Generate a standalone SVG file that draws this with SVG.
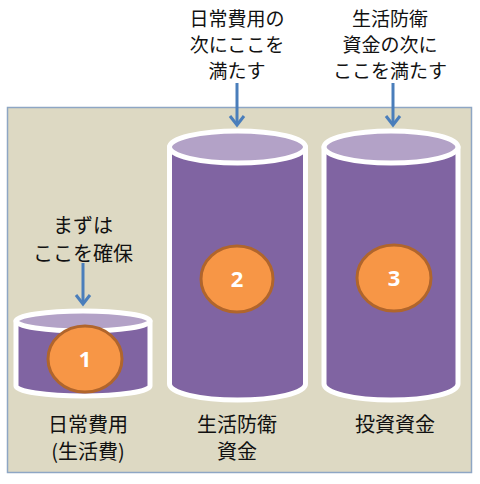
<svg xmlns="http://www.w3.org/2000/svg" width="480" height="484" viewBox="0 0 480 484">
<defs>
<style>
.t{font-family:"Noto Sans CJK JP","Noto Sans CJK SC",sans-serif;font-size:20px;fill:#111;text-anchor:middle}
.s{font-size:19px}
.body{fill:#8064A2;stroke:#fff;stroke-width:5;stroke-linejoin:round}
.top{fill:#B3A2C7;stroke:#fff;stroke-width:5}
.badge{fill:#F79646;stroke:#B0652C;stroke-width:3}
.num{font-family:"Open Sans","Liberation Sans",sans-serif;font-weight:bold;font-size:22px;fill:#fff;text-anchor:middle}
.arr{stroke:#4A7EBB;stroke-width:3;fill:none}
</style>
<marker id="ah" markerUnits="userSpaceOnUse" markerWidth="20" markerHeight="20" viewBox="-10 -10 20 20" refX="0" refY="0" orient="auto">
<path d="M-9,-7 L0,0 L-9,7" fill="none" stroke="#4A7EBB" stroke-width="3"/>
</marker>
</defs>
<rect x="0" y="0" width="480" height="484" fill="#fff"/>
<rect id="panel" x="7.5" y="107.5" width="464" height="365" fill="#DDD9C3" stroke="#8EA6C4" stroke-width="1.5"/>
<g id="cyl1">
<path class="body" d="M16,321 L16,386 A67,10 0 0 0 150,386 L150,321 Z"/>
<ellipse class="top" cx="83" cy="321" rx="67" ry="10"/>
<ellipse class="badge" cx="85" cy="359" rx="37" ry="33"/>
<text class="num" x="85" y="367">1</text>
</g>
<g id="cyl2">
<path class="body" d="M169.5,147 L169.5,384 A68,16 0 0 0 305.5,384 L305.5,147 Z"/>
<ellipse class="top" cx="237.5" cy="147" rx="68" ry="16"/>
<ellipse class="badge" cx="237" cy="279" rx="36" ry="33"/>
<text class="num" x="237" y="287">2</text>
</g>
<g id="cyl3">
<path class="body" d="M324,147 L324,384 A67,16 0 0 0 458,384 L458,147 Z"/>
<ellipse class="top" cx="391" cy="147" rx="67" ry="16"/>
<ellipse class="badge" cx="394" cy="278" rx="37" ry="33"/>
<text class="num" x="394" y="286">3</text>
</g>
<g id="connectors">
<line class="arr" x1="83" y1="263" x2="83" y2="304" marker-end="url(#ah)"/>
<line class="arr" x1="237" y1="83" x2="237" y2="125" marker-end="url(#ah)"/>
<line class="arr" x1="393" y1="83" x2="393" y2="125" marker-end="url(#ah)"/>
</g>
<g id="labels">
<text class="t s"><tspan x="237" y="26">日常費用の</tspan><tspan x="237" y="52">次にここを</tspan><tspan x="237" y="78">満たす</tspan></text>
<text class="t s"><tspan x="390" y="26">生活防衛</tspan><tspan x="390" y="52">資金の次に</tspan><tspan x="390" y="78">ここを満たす</tspan></text>
<text class="t"><tspan x="83" y="233">まずは</tspan><tspan x="83" y="261">ここを確保</tspan></text>
<text class="t"><tspan x="88" y="432">日常費用</tspan><tspan x="88" y="459">(生活費)</tspan></text>
<text class="t"><tspan x="237" y="432">生活防衛</tspan><tspan x="237" y="459">資金</tspan></text>
<text class="t" x="395" y="432">投資資金</text>
</g>
</svg>
